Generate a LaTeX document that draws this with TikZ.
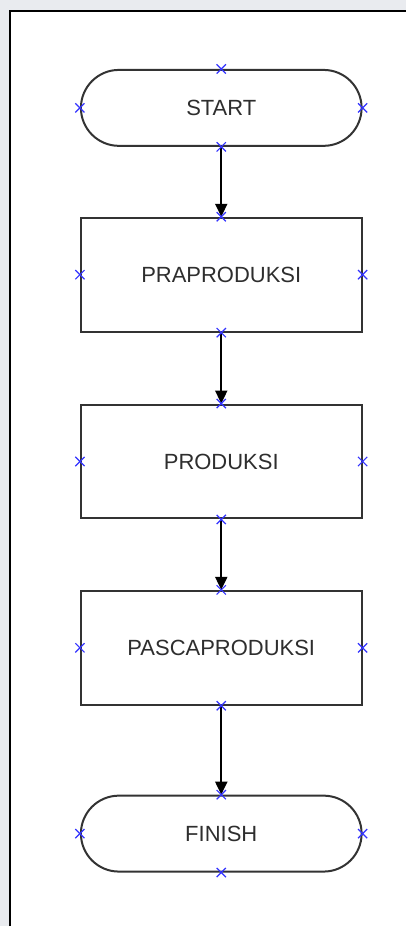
\documentclass[tikz,border=0pt]{standalone}
\usepackage{fontspec}
\setmainfont{Liberation Sans}
\usetikzlibrary{arrows.meta,shapes.misc}
\definecolor{pagegray}{HTML}{E9EBEF}
\definecolor{boxline}{HTML}{333333}
\definecolor{labeltext}{HTML}{2E2E2E}
\definecolor{crossblue}{HTML}{3333FF}
\tikzset{
    terminal/.style={draw=boxline,line width=2pt,fill=white,rounded corners=38pt,
        minimum width=281pt,minimum height=76pt,inner sep=0pt,
        text=labeltext,font=\fontsize{22}{26}\selectfont},
    process/.style={draw=boxline,line width=2pt,fill=white,
        minimum width=281pt,minimum height=114pt,inner sep=0pt,
        text=labeltext,font=\fontsize{22}{26}\selectfont},
    flow/.style={-{Triangle[width=12pt,length=13pt]},line width=2pt,black},
    anchorcross/.style={cross out,draw=crossblue,line width=1.2pt,
        minimum size=8pt,inner sep=0pt}
}
\begin{document}
\begin{tikzpicture}[x=1pt,y=1pt]
    % Page and frame
    \fill[pagegray] (0,0) rectangle (406,-927);
    \fill[white] (10,-11) rectangle (406,-927);
    \draw[line width=2pt] (10,-927) -- (10,-11) -- (406,-11);
    \useasboundingbox (0,0) rectangle (406,-927);

    % Steps
    \node[terminal] (start)  at (221.5,-108)   {START};
    \node[process]  (pra)    at (221.5,-275)   {PRAPRODUKSI};
    \node[process]  (prod)   at (221.5,-462)   {PRODUKSI};
    \node[process]  (pasca)  at (221.5,-648.5) {PASCAPRODUKSI};
    \node[terminal] (finish) at (221.5,-834.5) {FINISH};

    % Flow
    \draw[flow] (start.south) -- (pra.north);
    \draw[flow] (pra.south) -- (prod.north);
    \draw[flow] (prod.south) -- (pasca.north);
    \draw[flow] (pasca.south) -- (finish.north);

    % Connection points
    \foreach \n in {start,pra,prod,pasca,finish} {
        \foreach \a in {north,south,east,west} {
            \node[anchorcross] (\n-\a) at (\n.\a) {};
        }
    }
\end{tikzpicture}
\end{document}
